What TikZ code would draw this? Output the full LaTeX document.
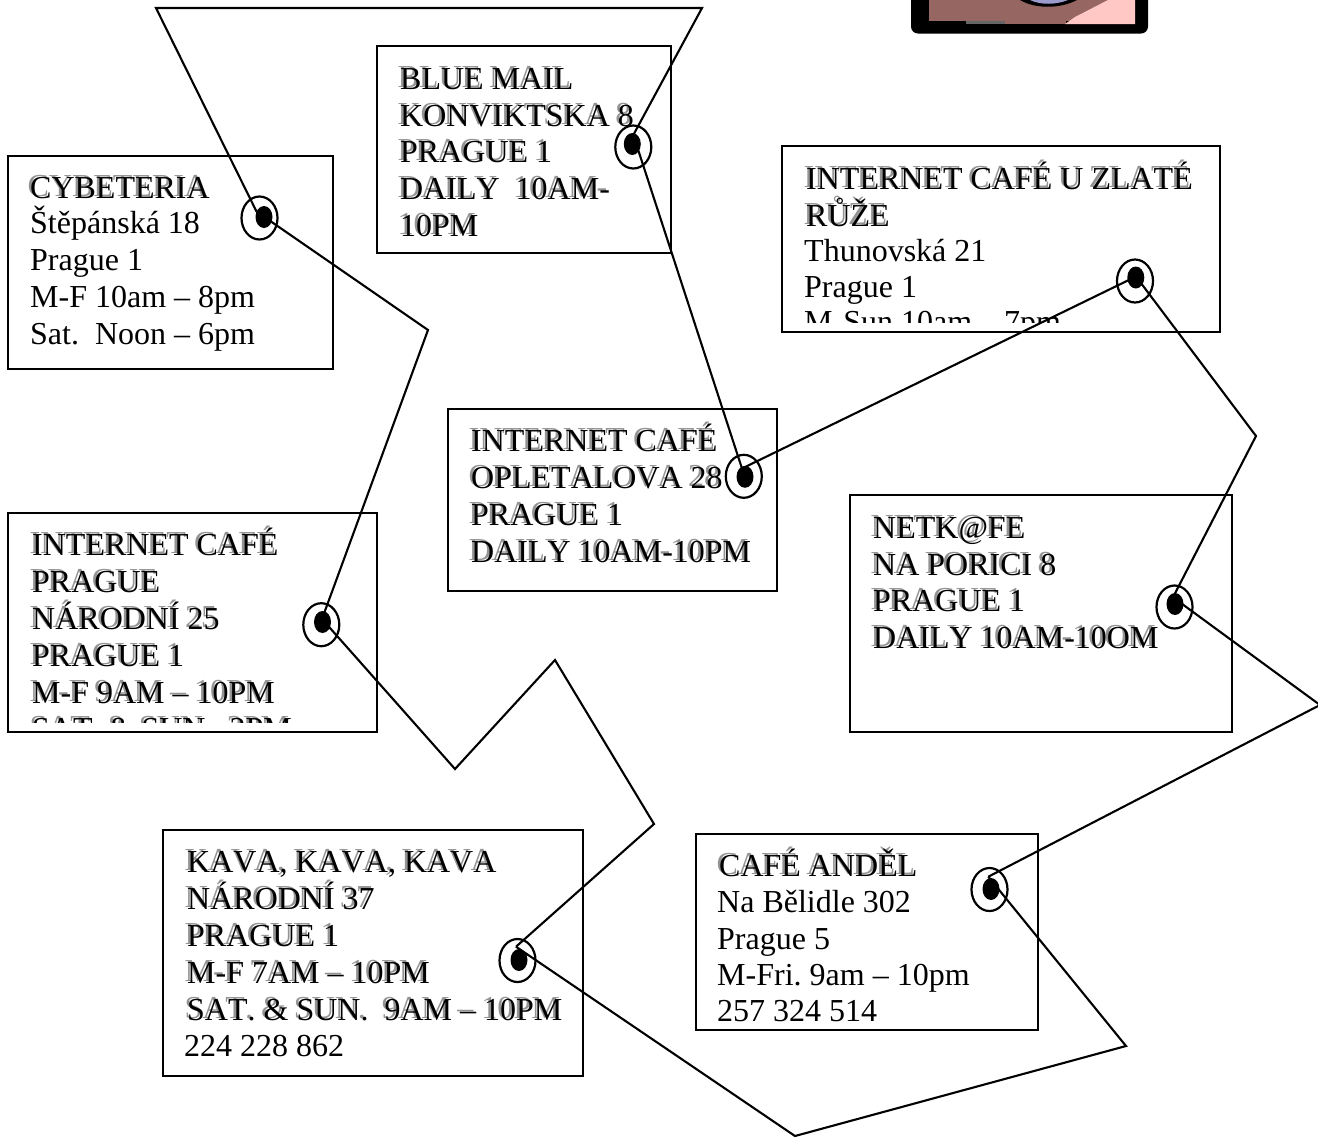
\documentclass[tikz,border=0pt]{standalone}
\usepackage{fontspec}
\setmainfont[Kerning=Off]{Liberation Serif}
\usetikzlibrary{shapes.geometric}
\definecolor{facebrown}{HTML}{966662}
\definecolor{facepink}{HTML}{FFC8C4}
\definecolor{faceblue}{HTML}{9A9ACC}
\tikzset{
  x=1pt,y=-1pt,
  cafebox/.style={draw=black,line width=2.1pt,rectangle,inner sep=0pt,outer sep=0pt,anchor=north west},
  outerring/.style={draw=black,line width=2.2pt,ellipse,minimum width=36pt,minimum height=43pt,inner sep=0pt,outer sep=0pt},
  innerdot/.style={fill=black,ellipse,minimum width=17pt,minimum height=22pt,inner sep=0pt,outer sep=0pt},
  route/.style={draw=black,line width=2.1pt,line join=miter},
  plain/.style={anchor=base west,inner sep=0pt,font=\fontsize{32}{37}\selectfont,text=black},
  shade/.style={plain,text=black!42},
}
\newcommand{\shline}[3]{%
  \node[shade] at (#1-2.6,#2-2) {\frenchspacing #3};
  \node[plain] at (#1,#2) {\frenchspacing #3};
}
\newcommand{\plline}[3]{\node[plain] at (#1,#2) {\frenchspacing #3};}
\newcommand{\cafe}[5]{\node[cafebox,minimum width=#4pt-#2pt,minimum height=#5pt-#3pt] (#1) at (#2,#3) {};}
% name, ring centre, dot centre, connector meeting point
\newcommand{\spot}[7]{%
  \node[outerring] (#1) at (#2,#3) {};
  \node[innerdot] (#1d) at (#4,#5) {};
  \coordinate (#1v) at (#6,#7);
}
\begin{document}
\begin{tikzpicture}
\useasboundingbox (0,0) rectangle (1318,1136);
\fill[white] (0,0) rectangle (1318,1136);
% picture fragment
\begin{scope}
\clip (0,0) rectangle (1318,1136);
\fill[black,rounded corners=7pt] (911,-30) rectangle (1148,33.5);
\fill[facebrown] (929,-5) rectangle (1135,21);
\fill[facebrown] (992,20) rectangle (1066,24);
\fill[black!60] (966,21) rectangle (1005,24);
\fill[facepink] (1065,24) -- (1075,17) -- (1108,0) -- (1135,0) -- (1135,24) -- cycle;
\fill[black] (1020,0) .. controls (1035,9) and (1060,9) .. (1077,0) -- cycle;
\fill[faceblue] (1030,0) .. controls (1040,5) and (1056,5) .. (1068,0) -- cycle;
\end{scope}
% boxes
\cafe{cyb}{8}{156}{333}{369}
\cafe{blue}{377}{46}{671}{253}
\cafe{zlate}{782}{146}{1220}{332}
\cafe{oplet}{448}{409}{777}{591}
\cafe{narod}{8}{513}{377}{732}
\cafe{netk}{850}{495}{1232}{732}
\cafe{kava}{163}{830}{583}{1076}
\cafe{andel}{696}{834}{1038}{1030}
% texts
\shline{30}{198}{CYBETERIA}
\plline{30}{233}{Štěpánská 18}
\plline{30}{270}{Prague 1}
\plline{30}{307}{M-F 10am – 8pm}
\plline{30}{344}{Sat.\ \ Noon – 6pm}
\shline{400}{89}{BLUE MAIL}
\shline{400}{126}{KONVIKTSKA 8}
\shline{400}{162}{PRAGUE 1}
\shline{400}{199}{DAILY\ \ 10AM-}
\shline{400}{236}{10PM}
\shline{806}{189}{INTERNET CAFÉ U ZLATÉ}
\shline{806}{226}{RŮŽE}
\plline{804}{261}{Thunovská 21}
\plline{804}{297}{Prague 1}
\begin{scope}
\clip (782,146) rectangle (1220,322);
\plline{804}{332}{M-Sun 10am – 7pm}
\end{scope}
\shline{471}{451}{INTERNET CAFÉ}
\shline{471}{488}{OPLETALOVA 28}
\shline{471}{525}{PRAGUE 1}
\shline{471}{562}{DAILY 10AM-10PM}
\shline{32}{555}{INTERNET CAFÉ}
\shline{32}{592}{PRAGUE}
\shline{32}{629}{NÁRODNÍ 25}
\shline{32}{666}{PRAGUE 1}
\shline{32}{703}{M-F 9AM – 10PM}
\begin{scope}
\clip (8,513) rectangle (377,722);
\shline{32}{739}{SAT. \& SUN.\ \ 2PM}
\end{scope}
\shline{873}{538}{NETK@FE}
\shline{873}{575}{NA PORICI 8}
\shline{873}{611}{PRAGUE 1}
\shline{873}{648}{DAILY 10AM-10OM}
\shline{187}{872}{KAVA, KAVA, KAVA}
\shline{187}{909}{NÁRODNÍ 37}
\shline{187}{946}{PRAGUE 1}
\shline{187}{983}{M-F 7AM – 10PM}
\shline{187}{1020}{SAT. \& SUN.\ \ 9AM – 10PM}
\plline{184}{1056}{224 228 862}
\shline{719}{876}{CAFÉ ANDĚL}
\plline{717}{912}{Na Bělidle 302}
\plline{717}{949}{Prague 5}
\plline{717}{985}{M-Fri. 9am – 10pm}
\plline{717}{1021}{257 324 514}
% spots
\spot{s1}{259.5}{218}{264}{217}{256.5}{211.5}
\spot{s2}{633.3}{147}{632.3}{144}{633.3}{135}
\spot{s3}{743.8}{476.3}{745}{476.8}{742}{468.5}
\spot{s4}{1135}{281}{1135.8}{277.5}{1136}{276.5}
\spot{s5}{321.3}{624.7}{322.5}{622}{322}{619}
\spot{s6}{1174.5}{607}{1175}{604}{1173}{597.3}
\spot{s7}{517.5}{960.5}{519}{960}{516}{946.7}
\spot{s8}{989.5}{889.5}{991}{889}{988.3}{876.7}
% free ends
\coordinate (t1) at (156,8);
\coordinate (t2) at (702,8);
\coordinate (b1) at (428,330);
\coordinate (b2) at (455,769);
\coordinate (b3) at (555,660);
\coordinate (b4) at (654,824);
\coordinate (b5) at (795,1136);
\coordinate (b6) at (1126,1046);
\coordinate (b7) at (1320,705);
\coordinate (b8) at (1256,436);
% route
\draw[route] (s1v) -- (t1) -- (t2) -- (s2v);
\draw[route] (s1v) -- (b1) -- (s5v);
\draw[route] (s5v) -- (b2) -- (b3) -- (b4) -- (s7v);
\draw[route] (s7v) -- (b5) -- (b6) -- (s8v);
\draw[route] (s8v) -- (b7) -- (s6v);
\draw[route] (s6v) -- (b8) -- (s4v);
\draw[route] (s4v) -- (s3v);
\draw[route] (s3v) -- (s2v);
\end{tikzpicture}
\end{document}
